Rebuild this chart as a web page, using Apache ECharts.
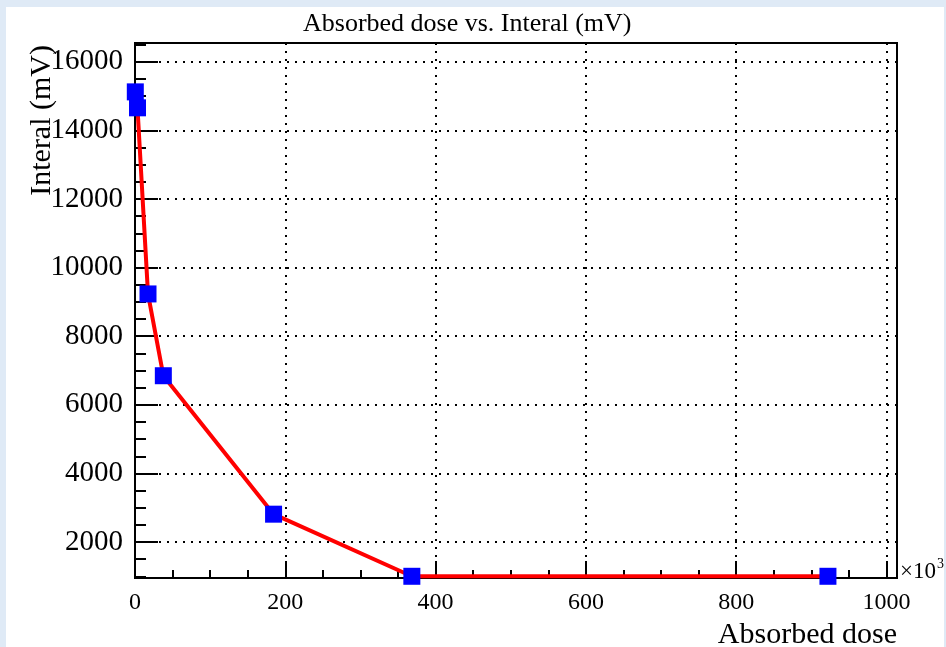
<!DOCTYPE html>
<html>
<head>
<meta charset="utf-8">
<script src="https://cdn.jsdelivr.net/npm/echarts@6/dist/echarts.min.js"></script>
<style>
  html, body { margin: 0; padding: 0; background: #dfeaf6; }
  #panel { position: absolute; left: 6px; top: 7px; width: 938px; height: 640px; background: #ffffff; }
  #chart { position: absolute; left: 0; top: 0; width: 946px; height: 647px; }
</style>
</head>
<body>
<div id="panel"></div>
<div id="chart"></div>
<script>
// Absorbed dose (x 10^3)
const dose = [0.4, 3.3, 17.3, 37.7, 184.4, 368.4, 922.1];
// Interal (mV)
const interal = [15125, 14660, 9233, 6848, 2811, 1000, 1000];

const xMajorTicks = [0, 200, 400, 600, 800, 1000];
const xMinorTicks = [50, 100, 150, 250, 300, 350, 450, 500, 550, 650, 700, 750, 850, 900, 950];
const yMajorTicks = [2000, 4000, 6000, 8000, 10000, 12000, 14000, 16000];
const yMinorTicks = [1000, 1500, 2500, 3000, 3500, 4500, 5000, 5500, 6500, 7000, 7500,
  8500, 9000, 9500, 10500, 11000, 11500, 12500, 13000, 13500, 14500, 15000, 15500, 16500];

const X_MIN = 0, X_MAX = 1014;
const Y_MIN = 950, Y_MAX = 16550;

const FONT = 'Liberation Serif';
const chart = echarts.init(document.getElementById('chart'), null, { renderer: 'canvas' });

const dotted = { color: '#000', width: 2, type: [2, 6] };
const plain = v => String(v);

chart.setOption({
  animation: false,
  backgroundColor: 'transparent',
  title: {
    text: 'Absorbed dose vs. Interal (mV)',
    left: 303, top: 11, padding: 0,
    textStyle: { fontFamily: FONT, fontSize: 26, fontWeight: 'normal', color: '#000' }
  },
  grid: {
    left: 135, right: 49, top: 43, bottom: 69,
    show: true, borderColor: '#000', borderWidth: 2,
    backgroundColor: 'transparent',
    outerBoundsMode: 'none', containLabel: false
  },
  xAxis: [
    {
      type: 'value', min: X_MIN, max: X_MAX, position: 'bottom', z: 3,
      axisLine: { show: true, onZero: false, lineStyle: { color: '#000', width: 2 } },
      axisTick: { show: true, inside: true, length: 17, customValues: xMajorTicks, lineStyle: { color: '#000', width: 2 } },
      axisLabel: { customValues: xMajorTicks, formatter: plain, fontFamily: FONT, fontSize: 24, color: '#000', margin: 13 },
      splitLine: { show: true, lineStyle: dotted },
      minorTick: { show: false }
    },
    {
      type: 'value', min: X_MIN, max: X_MAX, position: 'bottom', offset: 0, z: 3,
      axisLine: { show: false, onZero: false },
      axisTick: { show: true, inside: true, length: 8, customValues: xMinorTicks, lineStyle: { color: '#000', width: 2 } },
      axisLabel: { show: false },
      splitLine: { show: false }
    }
  ],
  yAxis: [
    {
      type: 'value', min: Y_MIN, max: Y_MAX, position: 'left', z: 3,
      axisLine: { show: true, onZero: false, lineStyle: { color: '#000', width: 2 } },
      axisTick: { show: true, inside: true, length: 23, customValues: yMajorTicks, lineStyle: { color: '#000', width: 2 } },
      axisLabel: { customValues: yMajorTicks, formatter: plain, fontFamily: FONT, fontSize: 29, color: '#000', margin: 12 },
      splitLine: { show: true, lineStyle: dotted }
    },
    {
      type: 'value', min: Y_MIN, max: Y_MAX, position: 'left', offset: 0, z: 3,
      axisLine: { show: false, onZero: false },
      axisTick: { show: true, inside: true, length: 11, customValues: yMinorTicks, lineStyle: { color: '#000', width: 2 } },
      axisLabel: { show: false },
      splitLine: { show: false }
    }
  ],
  series: [{
    type: 'line',
    xAxisIndex: 0, yAxisIndex: 0,
    data: dose.map((d, i) => [d, interal[i]]),
    symbol: 'rect', symbolSize: 17,
    lineStyle: { color: '#ff0000', width: 4 },
    itemStyle: { color: '#0000ff' },
    z: 5,
    clip: false
  }],
  graphic: [
    {
      type: 'text', x: 42, y: 45, rotation: Math.PI / 2,
      style: { text: 'Interal (mV)', font: '30px "Liberation Serif"', fill: '#000', align: 'right', verticalAlign: 'middle' }
    },
    {
      type: 'text', x: 897, y: 635,
      style: { text: 'Absorbed dose', font: '30px "Liberation Serif"', fill: '#000', align: 'right', verticalAlign: 'middle' }
    },
    {
      type: 'text', x: 900, y: 572,
      style: { text: '×10', font: '23px "Liberation Serif"', fill: '#000', align: 'left', verticalAlign: 'middle' }
    },
    {
      type: 'text', x: 937, y: 564,
      style: { text: '3', font: '14px "Liberation Serif"', fill: '#000', align: 'left', verticalAlign: 'middle' }
    }
  ]
});
</script>
</body>
</html>
